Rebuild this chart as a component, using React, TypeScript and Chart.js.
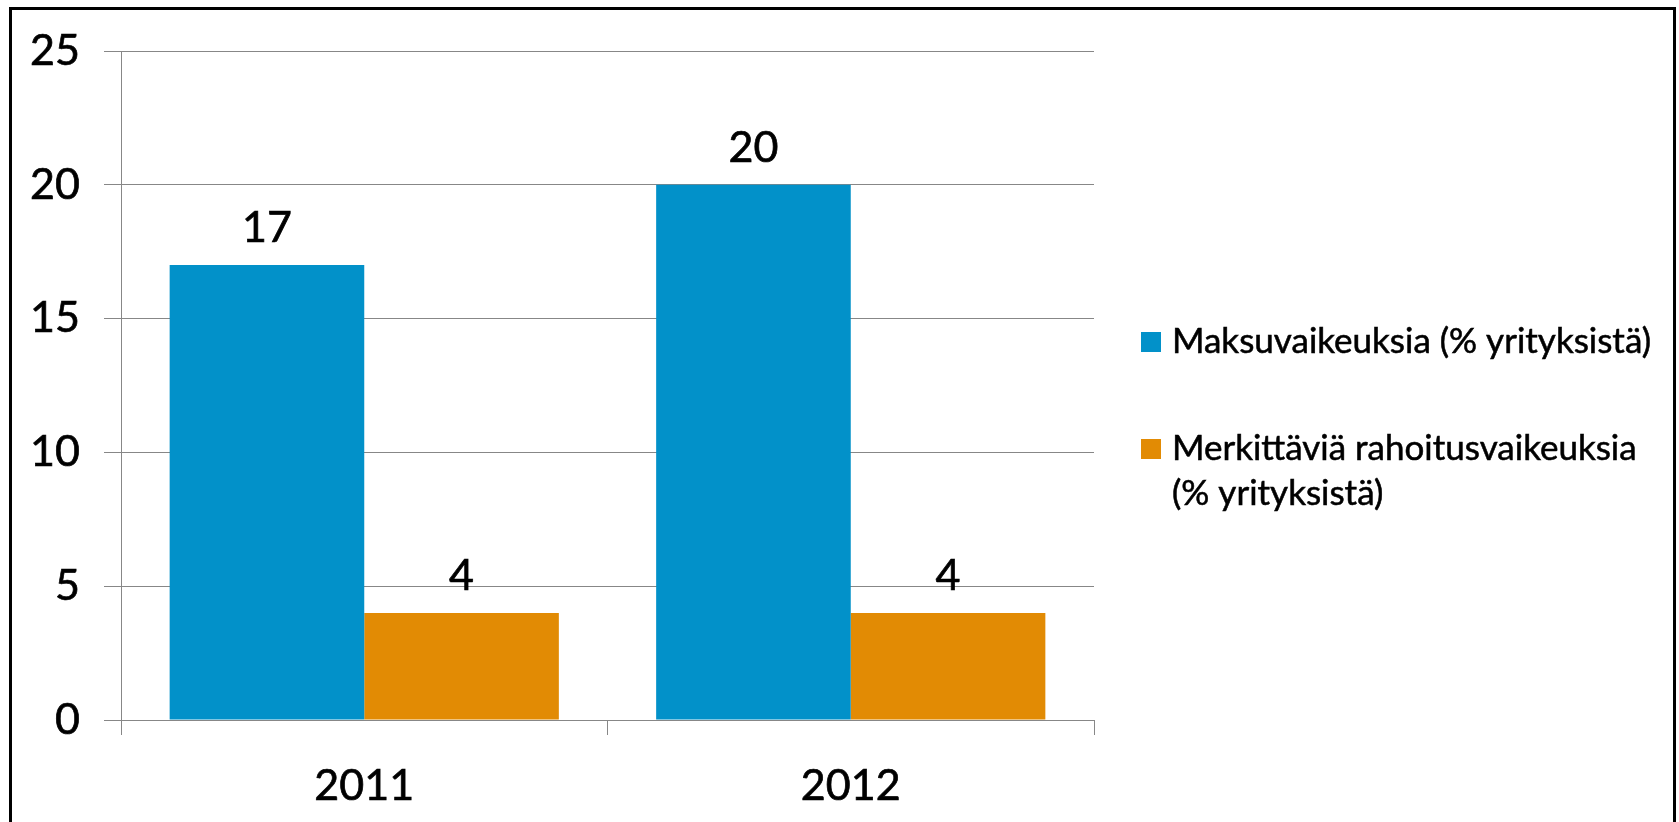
import React, { useEffect, useRef } from "react";
import { Chart, registerables } from "chart.js";

Chart.register(...registerables);

// ---- data ----
const categories = ["2011", "2012"];
const seriesNames = [
  "Maksuvaikeuksia (% yrityksistä)",
  "Merkittäviä rahoitusvaikeuksia (% yrityksistä)",
];
const legendLines = [
  ["Maksuvaikeuksia (% yrityksistä)"],
  ["Merkittäviä rahoitusvaikeuksia", "(% yrityksistä)"],
];
const maksuvaikeuksia = [17, 20];
const rahoitusvaikeuksia = [4, 4];
const yMin = 0;
const yMax = 25;
const yStep = 5;
const seriesColors = ["#0291C9", "#E28B04"];

const FONT = 'Lato, "Open Sans", "DejaVu Sans", sans-serif';
const GRID = "#878787";
const STROKE = 0.7;

const dataLabelPlugin = {
  id: "dataLabels",
  afterDatasetsDraw(chart: any) {
    const ctx = chart.ctx;
    ctx.save();
    ctx.font = `43px ${FONT}`;
    ctx.fillStyle = "#000";
    ctx.strokeStyle = "#000";
    ctx.lineWidth = STROKE;
    ctx.textAlign = "center";
    ctx.textBaseline = "alphabetic";
    chart.data.datasets.forEach((ds: any, di: number) => {
      const meta = chart.getDatasetMeta(di);
      meta.data.forEach((bar: any, i: number) => {
        const t = String(ds.data[i]);
        ctx.fillText(t, bar.x, bar.y - 23);
        ctx.strokeText(t, bar.x, bar.y - 23);
      });
    });
    ctx.restore();
  },
};

const sideLegendPlugin = {
  id: "sideLegend",
  afterDraw(chart: any) {
    const ctx = chart.ctx;
    const { right, top } = chart.chartArea;
    const baselines = [top + 302, top + 409];
    const lineH = 45;
    ctx.save();
    ctx.font = `35px ${FONT}`;
    ctx.textAlign = "left";
    ctx.textBaseline = "alphabetic";
    ctx.lineWidth = STROKE * 0.8;
    ctx.strokeStyle = "#000";
    legendLines.forEach((lines, i) => {
      const b = baselines[i];
      ctx.fillStyle = seriesColors[i];
      ctx.fillRect(right + 47, b - 21, 20, 20);
      ctx.fillStyle = "#000";
      lines.forEach((t, j) => {
        ctx.fillText(t, right + 78, b + j * lineH);
        ctx.strokeText(t, right + 78, b + j * lineH);
      });
    });
    ctx.restore();
  },
};

export default function App() {
  const ref = useRef<HTMLCanvasElement | null>(null);

  useEffect(() => {
    if (!ref.current) return;
    const chart = new Chart(ref.current, {
      type: "bar",
      data: {
        labels: categories,
        datasets: [
          {
            label: seriesNames[0],
            data: maksuvaikeuksia,
            backgroundColor: seriesColors[0],
            borderWidth: 0,
            categoryPercentage: 0.8,
            barPercentage: 1.0,
          },
          {
            label: seriesNames[1],
            data: rahoitusvaikeuksia,
            backgroundColor: seriesColors[1],
            borderWidth: 0,
            categoryPercentage: 0.8,
            barPercentage: 1.0,
          },
        ],
      },
      options: {
        animation: false,
        responsive: false,
        maintainAspectRatio: false,
        layout: { padding: { top: 41, right: 579, bottom: 0, left: 0 } },
        plugins: {
          legend: { display: false },
          tooltip: { enabled: false },
        },
        scales: {
          x: {
            offset: true,
            grid: {
              display: true,
              offset: true,
              drawOnChartArea: false,
              drawTicks: true,
              tickLength: 15,
              color: GRID,
              lineWidth: 1,
            },
            border: { display: true, color: GRID, width: 1 },
            ticks: {
              color: "#000",
              font: { family: FONT, size: 43 },
              padding: 25,
              textStrokeColor: "#000",
              textStrokeWidth: STROKE,
            },
            afterFit(scale: any) {
              scale.height = 102;
              scale.paddingLeft = 0;
              scale.paddingRight = 0;
            },
          },
          y: {
            min: yMin,
            max: yMax,
            ticks: {
              stepSize: yStep,
              color: "#000",
              font: { family: FONT, size: 43 },
              padding: 24,
              textStrokeColor: "#000",
              textStrokeWidth: STROKE,
            },
            grid: {
              color: GRID,
              lineWidth: 1,
              drawTicks: true,
              tickLength: 17,
            },
            border: { display: true, color: GRID, width: 1 },
            afterFit(scale: any) {
              scale.width = 109;
              scale.paddingTop = 0;
              scale.paddingBottom = 0;
            },
          },
        },
      },
      plugins: [dataLabelPlugin, sideLegendPlugin],
    });
    return () => chart.destroy();
  }, []);

  return (
    <div
      style={{
        position: "fixed",
        left: 9,
        top: 7,
        width: 1661,
        height: 830,
        border: "3px solid #000",
        background: "#fff",
      }}
    >
      <canvas
        ref={ref}
        width={1661}
        height={812}
        style={{ display: "block", width: 1661, height: 812 }}
      />
    </div>
  );
}
